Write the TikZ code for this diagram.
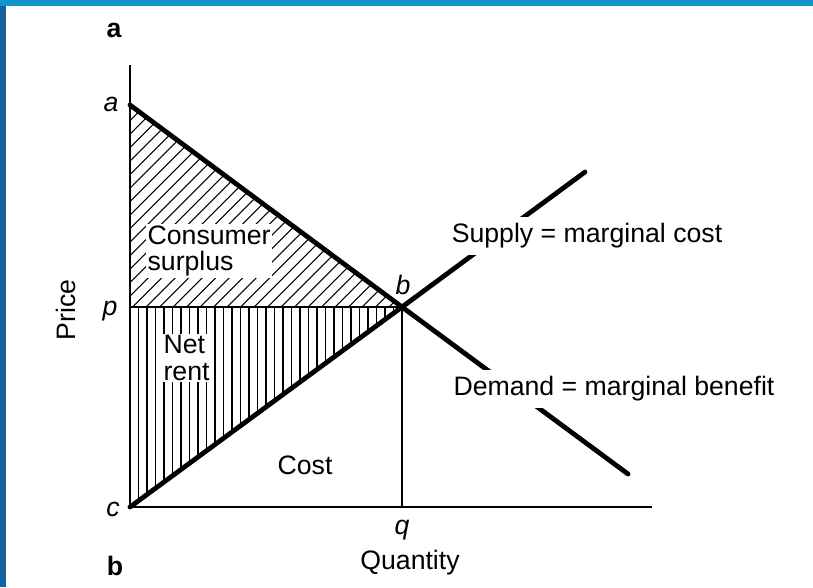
\documentclass[tikz,border=0pt]{standalone}
\usepackage{fontspec}
\setmainfont{Liberation Sans}[BoldFont={Liberation Sans Bold},ItalicFont={Liberation Sans Italic}]
\begin{document}
\begin{tikzpicture}[x=0.75pt,y=-0.75pt,
  txt/.style={font=\fontsize{20}{20}\selectfont, inner sep=1pt},
  lab/.style={font=\fontsize{20}{20}\selectfont\itshape, inner sep=1pt},
  panel/.style={font=\fontsize{20}{20}\selectfont\bfseries, inner sep=1pt},
  gaplabel/.style={txt, fill=white, inner xsep=2pt, inner ysep=5pt},
  curve/.style={line width=3.6pt, line cap=round},
  axisline/.style={line width=2.2pt},
  guide/.style={line width=1.1pt},
  hatchline/.style={line width=0.8pt}]
\definecolor{frameblue}{RGB}{22,96,158}
\definecolor{topblue}{RGB}{20,150,205}
\useasboundingbox (0,0) rectangle (813,587);
\fill[frameblue] (0,0) rectangle (813,587);
\fill[topblue] (0,0) rectangle (813,6);
\fill[white] (6,6) rectangle (813,587);
% key points
\coordinate (A) at (130,105);
\coordinate (B) at (402,307);
\coordinate (C) at (130,507);
\coordinate (P) at (130,307);
\coordinate (Q) at (402,507);
\coordinate (YT) at (130,65);
\coordinate (XE) at (652,507);
\coordinate (DE) at (628,474);
\coordinate (SE) at (585,172);
% consumer surplus hatching
\begin{scope}
  \clip (A) -- (B) -- (P) -- cycle;
  \foreach \k in {0,...,37} {
    \draw[hatchline] (-72+13.5*\k,309) -- ++(206,-206);
  }
\end{scope}
% net rent hatching
\begin{scope}
  \clip (P) -- (B) -- (C) -- cycle;
  \foreach \k in {1,...,32} {
    \draw[hatchline] (130+8.5*\k,305) -- (130+8.5*\k,509);
  }
\end{scope}
% guides
\draw[guide] (P) -- (B);
\draw[guide] (B) -- (Q);
% curves
\draw[curve] (A) -- (B) -- (DE);
\draw[curve] (C) -- (B) -- (SE);
% axes
\draw[axisline] (YT) -- (C) -- (XE);
% area labels
\node[txt, fill=white, anchor=north west, align=left] (cs) at (146,224) {Consumer\\surplus};
\node[txt, fill=white, anchor=north west, align=left] (nr) at (162,334) {Net\\rent};
\node[txt] (cost) at (305,465) {Cost};
% curve labels (white fill breaks the lines)
\node[gaplabel] (sup) at (587,236) {Supply = marginal cost};
\node[gaplabel] (dem) at (614,389) {Demand = marginal benefit};
% point labels
\node[lab] (la) at (111,104) {a};
\node[lab] (lp) at (110,311) {p};
\node[lab] (lc) at (113,509) {c};
\node[lab] (lb) at (403,285) {b};
\node[lab] (lq) at (402,530) {q};
% axis titles
\node[txt] (qty) at (410,563) {Quantity};
\node[txt, rotate=90] (price) at (66,310) {Price};
% panel labels
\node[panel] (pa) at (114,30) {a};
\node[panel] (pb) at (115,566) {b};
\end{tikzpicture}
\end{document}
